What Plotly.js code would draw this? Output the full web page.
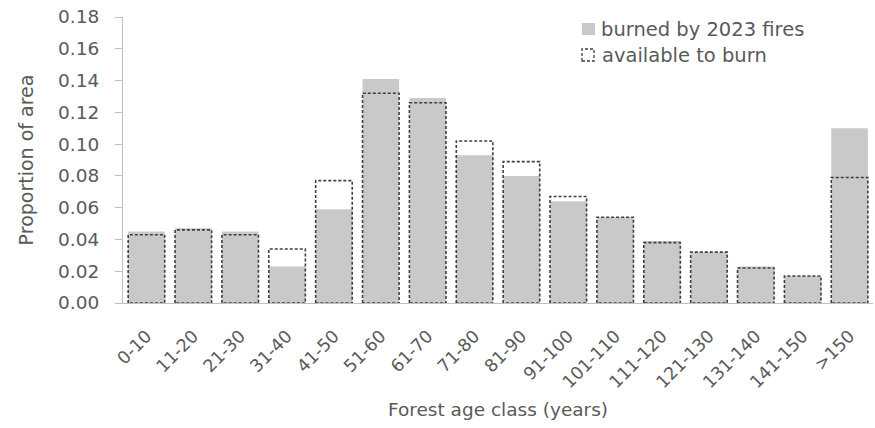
<!DOCTYPE html>
<html>
<head>
<meta charset="utf-8">
<script src="https://cdn.plot.ly/plotly-3.0.1.min.js"></script>
<style>html,body{margin:0;padding:0;background:#fff;}#chart{width:875px;height:428px;}</style>
</head>
<body>
<div id="chart"></div>
<script>
var categories = ["0-10","11-20","21-30","31-40","41-50","51-60","61-70","71-80","81-90","91-100","101-110","111-120","121-130","131-140","141-150",">150"];
var burned    = [0.045,0.047,0.045,0.023,0.059,0.141,0.129,0.093,0.080,0.064,0.054,0.039,0.032,0.023,0.017,0.110];
var available = [0.043,0.046,0.043,0.034,0.077,0.132,0.126,0.102,0.089,0.067,0.054,0.038,0.032,0.022,0.017,0.079];
var yTicks = [0,0.02,0.04,0.06,0.08,0.10,0.12,0.14,0.16,0.18];

var idx = categories.map(function(c,i){return i;});
var half = 0.39;
var ox = [], oy = [];
available.forEach(function(v,i){
  ox.push(i-half, i-half, i+half, i+half, i-half, null);
  oy.push(0, v, v, 0, 0, null);
});

var FONT = "DejaVu Sans, sans-serif";
var TXT = "#5a5a5a";

var traces = [
  {type:"bar", x: idx, y: burned, width: 0.78, marker:{color:"#c9c9c9", line:{width:0}}, showlegend:false, hoverinfo:"skip"},
  {type:"scatter", mode:"lines", x: ox, y: oy, line:{color:"#3f3f3f", width:1.6, dash:"3px,2px"}, showlegend:false, hoverinfo:"skip", cliponaxis:false}
];

// plot area: x 123..873 px, y 17..303 px
var L = 123, R = 873, T = 17, B = 303;
function px2paperX(p){ return (p-L)/(R-L); }
function px2paperY(p){ return (B-p)/(B-T); }

var layout = {
  width: 875, height: 428,
  margin: {l:L, r:875-R, t:T, b:428-B, pad:0},
  paper_bgcolor:"#fff", plot_bgcolor:"#fff",
  showlegend:false,
  font:{family:FONT, color:TXT, size:16},
  xaxis:{
    range:[-0.5, categories.length-0.5],
    tickvals: idx, ticktext: categories,
    tickangle:-45, tickfont:{size:17.5, color:TXT, family:FONT},
    ticklabelstandoff: 15,
    showgrid:false, zeroline:false,
    showline:true, linecolor:"#bfbfbf", linewidth:1,
    ticks:"", fixedrange:true,
    title:{text:"Forest age class (years)", font:{size:18.5, color:TXT, family:FONT}, standoff:12}
  },
  yaxis:{
    range:[0,0.18], tickvals:yTicks, tickformat:".2f",
    tickfont:{size:18.5, color:TXT, family:FONT},
    showgrid:false, zeroline:false,
    showline:true, linecolor:"#bfbfbf", linewidth:1,
    ticks:"outside", ticklen:7, tickcolor:"#bfbfbf",
    ticklabelstandoff: 12,
    title:{text:"Proportion of area", font:{size:19, color:TXT, family:FONT}, standoff:19}
  },
  shapes:[
    {type:"rect", xref:"paper", yref:"paper", x0:px2paperX(582), x1:px2paperX(595), y0:px2paperY(35), y1:px2paperY(23), fillcolor:"#c9c9c9", line:{width:0}},
    {type:"rect", xref:"paper", yref:"paper", x0:px2paperX(582), x1:px2paperX(594), y0:px2paperY(61), y1:px2paperY(49), fillcolor:"rgba(0,0,0,0)", line:{color:"#3f3f3f", width:1.3, dash:"3px,2px"}}
  ],
  annotations:[
    {xref:"paper", yref:"paper", x:px2paperX(599), y:px2paperY(29), xanchor:"left", yanchor:"middle", text:"burned by 2023 fires", showarrow:false, font:{size:19.5, color:TXT, family:FONT}},
    {xref:"paper", yref:"paper", x:px2paperX(600), y:px2paperY(55), xanchor:"left", yanchor:"middle", text:"available to burn", showarrow:false, font:{size:19.5, color:TXT, family:FONT}}
  ]
};

Plotly.newPlot("chart", traces, layout, {displayModeBar:false, staticPlot:true});
</script>
</body>
</html>
